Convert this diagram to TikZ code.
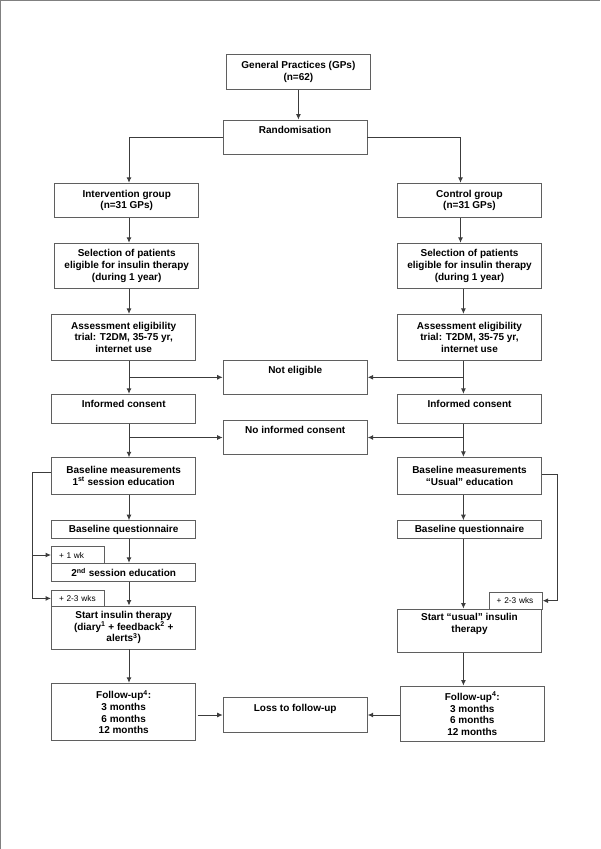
\documentclass[tikz,border=0pt]{standalone}
\usepackage{fontspec}
\setmainfont{Liberation Sans}
\usepackage{tikz}
\usetikzlibrary{arrows.meta}
\definecolor{framegray}{RGB}{128,128,128}
\definecolor{linegray}{RGB}{60,60,60}
\definecolor{boxgray}{RGB}{95,95,95}

\begin{document}
\begin{tikzpicture}[x=1pt, y=-1pt,
  box/.style={draw=boxgray, line width=0.95pt, rectangle, inner sep=0pt,
    minimum width=144pt, align=center,
    font=\fontsize{10}{11.7}\selectfont\bfseries},
  tab/.style={draw=boxgray, line width=0.95pt, rectangle, inner sep=0pt,
    minimum width=53pt, minimum height=16pt, text width=38pt, align=left,
    font=\fontsize{8.3}{10}\selectfont},
  arr/.style={draw=linegray, line width=0.95pt, -{Latex[length=5.5pt,width=5pt]}}]

\useasboundingbox (0,0) rectangle (600,849);

% ── Rahmen oben/links ────────────────────────────────────────────────
\draw[framegray, line width=2.4pt] (0,849) -- (0,0) -- (600,0);

% ── Spalten-Linien ───────────────────────────────────────────────────
\coordinate (lx)  at (129,0);
\coordinate (rxa) at (460.5,0);
\coordinate (rx)  at (463.4,0);
\coordinate (lb)  at (32.3,0);
\coordinate (rb)  at (557.3,0);

% ── Kopf ─────────────────────────────────────────────────────────────
\node[box, minimum height=34.7pt] (gp)   at (298.4,71.7)  {General Practices (GPs)\\(n=62)};
\node[box, minimum height=34.7pt] (rand) at (295.0,137.4) {Randomisation\\\strut};

% ── Interventionsgruppe (links) ──────────────────────────────────────
\node[box, minimum height=34pt]   (int)  at (126.7,200.3) {Intervention group\\(n=31 GPs)};
\node[box, minimum height=45pt]   (selL) at (126.7,265.8) {Selection of patients\\eligible for insulin therapy\\(during 1 year)};
\node[box, minimum height=45.7pt] (assL) at (123.7,337.2) {Assessment eligibility\\trial: T2DM, 35-75 yr,\\internet use};
\node[box, minimum height=29pt]   (icL)  at (123.7,408.8) {Informed consent\\[-5pt]\strut};
\node[box, minimum height=36.3pt] (bmL)  at (123.7,475.9) {Baseline measurements\\1\textsuperscript{st} session education};
\node[box, minimum height=17.6pt] (bqL)  at (123.7,529.5) {Baseline questionnaire};
\node[tab, minimum height=16.6pt] (wk1)  at (78.0,555.0)  {+ 1 wk};
\node[box, minimum height=18.4pt] (s2L)  at (123.7,572.5) {2\textsuperscript{nd} session education};
\node[tab, minimum height=15.3pt] (wk23L) at (78.0,598.4) {+ 2-3 wks};
\node[box, minimum height=43pt]   (siL)  at (123.7,627.5) {Start insulin therapy\\(diary\textsuperscript{1} + feedback\textsuperscript{2} +\\alerts\textsuperscript{3})};
\node[box, minimum height=57.4pt] (fuL)  at (123.7,712.0) {Follow-up\textsuperscript{4}:\\3 months\\6 months\\12 months};

% ── Kontrollgruppe (rechts) ──────────────────────────────────────────
\node[box, minimum height=34pt]   (ctl)  at (469.5,200.3) {Control group\\(n=31 GPs)};
\node[box, minimum height=45pt]   (selR) at (469.5,265.8) {Selection of patients\\eligible for insulin therapy\\(during 1 year)};
\node[box, minimum height=45.7pt] (assR) at (469.5,337.2) {Assessment eligibility\\trial: T2DM, 35-75 yr,\\internet use};
\node[box, minimum height=29pt]   (icR)  at (469.5,408.8) {Informed consent\\[-5pt]\strut};
\node[box, minimum height=36.7pt] (bmR)  at (469.5,475.7) {Baseline measurements\\“Usual” education};
\node[box, minimum height=18pt]   (bqR)  at (469.5,529.7) {Baseline questionnaire};
\node[tab, minimum height=16.7pt] (wk23R) at (515.7,600.7) {+ 2-3 wks};
\node[box, minimum height=43.3pt] (siR)  at (469.5,630.7) {Start “usual” insulin\\therapy\\\strut};
\node[box, minimum height=55.3pt] (fuR)  at (472.3,713.7) {Follow-up\textsuperscript{4}:\\3 months\\6 months\\12 months};

% ── Mitte: Ausschluss ────────────────────────────────────────────────
\node[box, minimum height=34pt]   (notel) at (295.2,377.3) {Not eligible\\\strut};
\node[box, minimum height=34.4pt] (noic)  at (295.2,437.5) {No informed consent\\\strut};
\node[box, minimum height=34.6pt] (loss)  at (295.2,715.0) {Loss to follow-up\\\strut};

% ── Pfeile ───────────────────────────────────────────────────────────
\draw[arr] (gp.south) -- (gp.south |- rand.north);
\draw[arr] (rand.west) -| (int.north -| lx);
\draw[arr] (rand.east) -| (ctl.north -| rxa);

\foreach \a/\b in {int/selL, selL/assL, assL/icL, icL/bmL, bmL/bqL, bqL/s2L, s2L/siL, siL/fuL}
  \draw[arr] (\a.south -| lx) -- (\b.north -| lx);

\draw[arr] (ctl.south -| rxa) -- (selR.north -| rxa);
\foreach \a/\b in {selR/assR, assR/icR, icR/bmR, bmR/bqR, bqR/siR, siR/fuR}
  \draw[arr] (\a.south -| rx) -- (\b.north -| rx);

\draw[arr] (notel.west -| lx) -- (notel.west);
\draw[arr] (notel.east -| rx) -- (notel.east);
\draw[arr] (noic.west -| lx) -- (noic.west);
\draw[arr] (noic.east -| rx) -- (noic.east);
\draw[arr] ([xshift=1.5pt]loss.west -| fuL.east) -- (loss.west);
\draw[arr] (loss.east -| fuR.west) -- (loss.east);

% ── Zeitabstaende ────────────────────────────────────────────────────
\draw[arr] ([yshift=3pt]bmL.west) -- ([yshift=3pt]bmL.west -| lb) |- (wk23L.west);
\draw[arr] (wk1.west -| lb) -- (wk1.west);
\draw[arr] ([yshift=1.5pt]bmR.east) -- ([yshift=1.5pt]bmR.east -| rb) |- (wk23R.east);

\end{tikzpicture}
\end{document}
